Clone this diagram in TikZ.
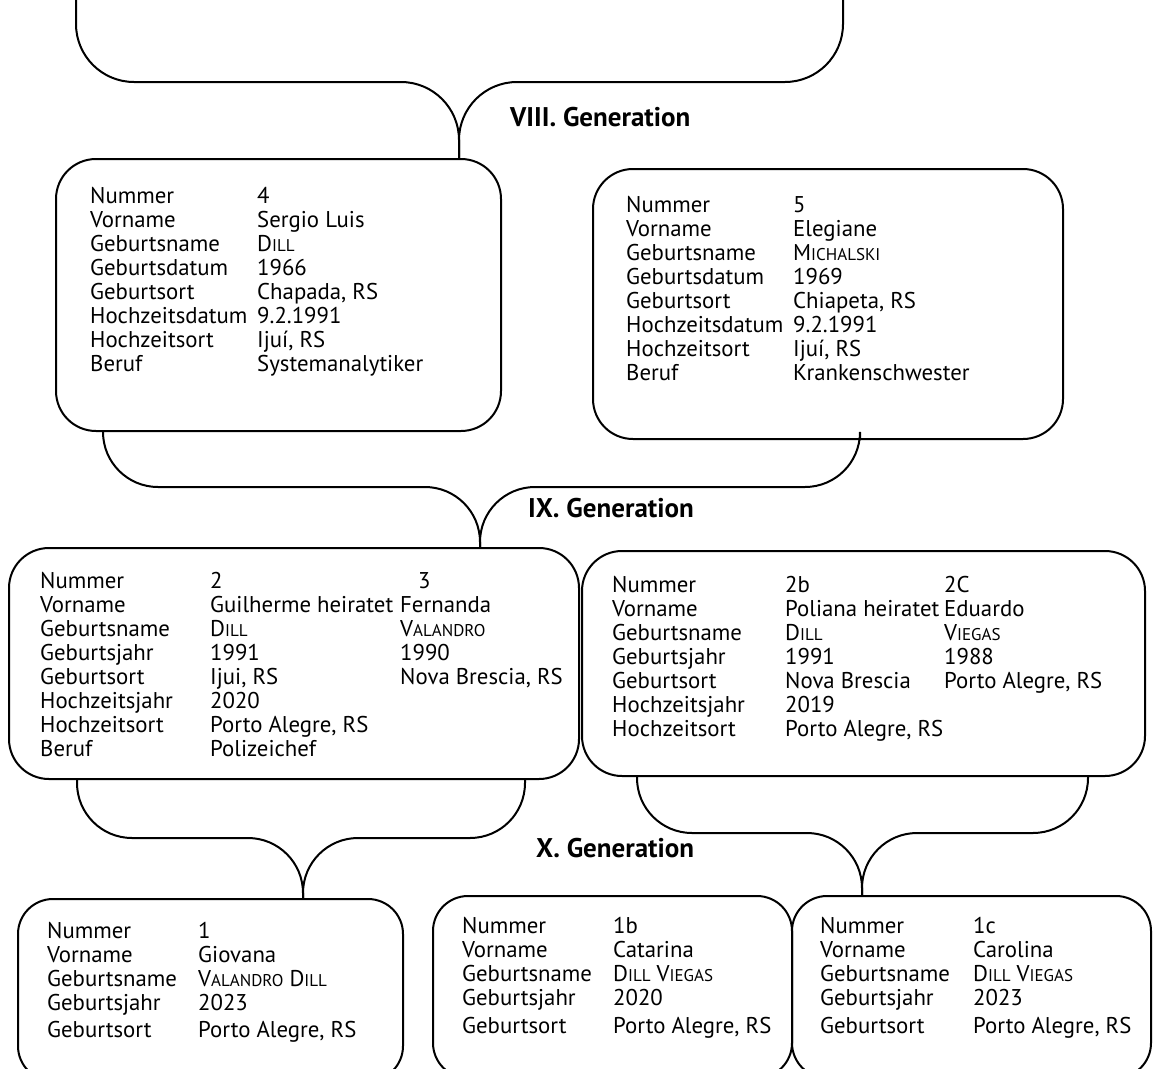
\documentclass[tikz,border=0pt]{standalone}
\usepackage{fontspec}
\usepackage{array}
\setmainfont{PT Sans}
\usetikzlibrary{calc,positioning}

\newcommand{\kapit}[1]{{\fontsize{17}{24}\selectfont #1}}

\begin{document}
\begin{tikzpicture}[%
    x=1pt, y=-1pt,
    kasten/.style={draw, line width=2pt, rounded corners=40pt,
      anchor=north west, inner sep=0pt},
    daten/.style={anchor=base west, inner sep=0pt,
      font=\fontsize{22.8}{24}\selectfont},
    gen/.style={anchor=west, inner sep=0pt,
      font=\fontsize{27}{30}\selectfont\bfseries},
    klammer/.style={line width=2pt, rounded corners=55pt}
  ]
  \useasboundingbox (0,0) rectangle (1153,1068);

  \node[kasten, minimum width=445pt, minimum height=272pt] (v4) at (55,158) {};
  \node[kasten, minimum width=470pt, minimum height=270pt] (m5) at (592,168) {};
  \node[kasten, minimum width=570pt, minimum height=231pt] (k2) at (8,547) {};
  \node[kasten, minimum width=563pt, minimum height=225pt] (k2b) at (581,550) {};
  \node[kasten, rounded corners=35pt, minimum width=385pt, minimum height=182pt] (e1) at (17,898) {};
  \node[kasten, rounded corners=35pt, minimum width=359pt, minimum height=182pt] (e1b) at (432,895) {};
  \node[kasten, rounded corners=35pt, minimum width=359pt, minimum height=182pt] (e1c) at (791,895) {};

  \node[daten] (v4t) at ([shift={(35,45)}]v4.north west) {%
    \begin{tabular}[t]{@{}w{l}{167pt}@{}l@{}}
      Nummer & 4\\
      Vorname & Sergio Luis\\
      Geburtsname & D\kapit{ILL}\\
      Geburtsdatum & 1966\\
      Geburtsort & Chapada, RS\\
      Hochzeitsdatum & 9.2.1991\\
      Hochzeitsort & Ijuí, RS\\
      Beruf & Systemanalytiker
    \end{tabular}};
  \node[daten] (m5t) at ([shift={(34,44)}]m5.north west) {%
    \begin{tabular}[t]{@{}w{l}{167pt}@{}l@{}}
      Nummer & 5\\
      Vorname & Elegiane\\
      Geburtsname & M\kapit{ICHALSKI}\\
      Geburtsdatum & 1969\\
      Geburtsort & Chiapeta, RS\\
      Hochzeitsdatum & 9.2.1991\\
      Hochzeitsort & Ijuí, RS\\
      Beruf & Krankenschwester
    \end{tabular}};
  \node[daten] (k2t) at ([shift={(32,41)}]k2.north west) {%
    \begin{tabular}[t]{@{}w{l}{170pt}@{}w{l}{190pt}@{}l@{}}
      Nummer & 2 & \hspace*{18pt}3\\
      Vorname & Guilherme heiratet & Fernanda\\
      Geburtsname & D\kapit{ILL} & V\kapit{ALANDRO}\\
      Geburtsjahr & 1991 & 1990\\
      Geburtsort & Ijui, RS & Nova Brescia, RS\\
      Hochzeitsjahr & 2020 &\\
      Hochzeitsort & Porto Alegre, RS &\\
      Beruf & Polizeichef &
    \end{tabular}};
  \node[daten] (k2bt) at ([shift={(31,42)}]k2b.north west) {%
    \begin{tabular}[t]{@{}w{l}{173pt}@{}w{l}{159pt}@{}l@{}}
      Nummer & 2b & 2C\\
      Vorname & Poliana heiratet & Eduardo\\
      Geburtsname & D\kapit{ILL} & V\kapit{IEGAS}\\
      Geburtsjahr & 1991 & 1988\\
      Geburtsort & Nova Brescia & Porto Alegre, RS\\
      Hochzeitsjahr & 2019 &\\
      Hochzeitsort & Porto Alegre, RS &
    \end{tabular}};
  \node[daten] (e1t) at ([shift={(30,40)}]e1.north west) {%
    \begin{tabular}[t]{@{}w{l}{151pt}@{}l@{}}
      Nummer & 1\\
      Vorname & Giovana\\
      Geburtsname & V\kapit{ALANDRO} D\kapit{ILL}\\
      Geburtsjahr & 2023\\[3pt]
      Geburtsort & Porto Alegre, RS
    \end{tabular}};
  \node[daten] (e1bt) at ([shift={(30,38)}]e1b.north west) {%
    \begin{tabular}[t]{@{}w{l}{151pt}@{}l@{}}
      Nummer & 1b\\
      Vorname & Catarina\\
      Geburtsname & D\kapit{ILL} V\kapit{IEGAS}\\
      Geburtsjahr & 2020\\[4pt]
      Geburtsort & Porto Alegre, RS
    \end{tabular}};
  \node[daten] (e1ct) at ([shift={(29,38)}]e1c.north west) {%
    \begin{tabular}[t]{@{}w{l}{153pt}@{}l@{}}
      Nummer & 1c\\
      Vorname & Carolina\\
      Geburtsname & D\kapit{ILL} V\kapit{IEGAS}\\
      Geburtsjahr & 2023\\[4pt]
      Geburtsort & Porto Alegre, RS
    \end{tabular}};

  \coordinate (ol) at (76,-10);
  \coordinate (or) at (843,-10);
  \coordinate (s8) at ([xshift=404pt]v4.north west);
  \coordinate (s9) at ([xshift=472pt]k2.north west);
  \coordinate (s10) at ([xshift=286pt]e1.north west);
  \coordinate (s10b) at ([xshift=71pt]e1c.north west);

  \draw[klammer, rounded corners=58pt] (ol) |- ([yshift=76pt]s8) -- (s8);
  \draw[klammer, rounded corners=58pt] (or) |- ([yshift=76pt]s8) -- (s8);
  \draw[klammer] ([xshift=48pt]v4.south west) |- ([yshift=60pt]s9) -- (s9);
  \draw[klammer] ([xshift=-204pt]m5.south east) |- ([yshift=60pt]s9) -- (s9);
  \draw[klammer] ([xshift=69pt]k2.south west) |- ([yshift=60pt]s10) -- (s10);
  \draw[klammer] ([xshift=-55pt]k2.south east) |- ([yshift=60pt]s10) -- (s10);
  \draw[klammer] ([xshift=56pt]k2b.south west) |- ([yshift=62pt]s10b) -- (s10b);
  \draw[klammer] ([xshift=-58pt]k2b.south east) |- ([yshift=62pt]s10b) -- (s10b);

  \node[gen] (g8) at (510,117) {VIII. Generation};
  \node[gen] (g9) at (528,508) {IX. Generation};
  \node[gen] (g10) at (536,848) {X. Generation};
\end{tikzpicture}
\end{document}
